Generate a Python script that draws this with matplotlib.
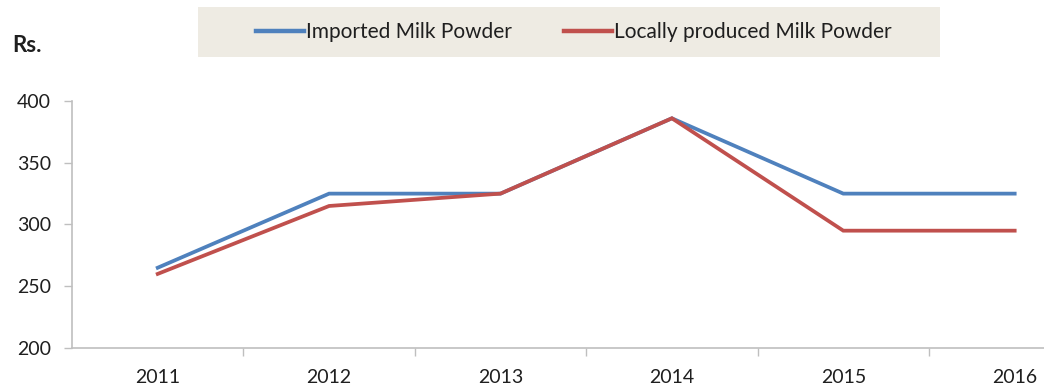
import matplotlib
matplotlib.use("Agg")
import matplotlib.pyplot as plt
from matplotlib.patches import Rectangle

years = ["2011", "2012", "2013", "2014", "2015", "2016"]
imported = [265, 325, 325, 386, 325, 325]
local = [260, 315, 325, 386, 295, 295]
y_ticks = [200, 250, 300, 350, 400]

BLUE = "#4F81BD"
RED = "#C0504D"
AXIS = "#BFBFBF"
TEXT = "#1F1F1F"

plt.rcParams["font.family"] = ["Lato", "DejaVu Sans"]

fig = plt.figure(figsize=(10.44, 3.87), dpi=100)
ax = fig.add_axes([0.069, 0.1008, 0.985, 0.6382])

x = range(len(years))
ax.plot(x, imported, color=BLUE, lw=2.7, solid_joinstyle="miter", label="Imported Milk Powder", zorder=3)
ax.plot(x, local, color=RED, lw=2.7, solid_joinstyle="miter", label="Locally produced Milk Powder", zorder=4)

ax.set_xlim(-0.5, len(years) - 0.5)
ax.set_ylim(200, 400)
ax.set_yticks(y_ticks)
ax.set_yticklabels([str(v) for v in y_ticks], fontsize=14, color=TEXT)

# category labels centred, tick marks between categories
ax.set_xticks([i + 0.5 for i in range(len(years) - 1)])
ax.set_xticklabels([])
ax.set_xticks(list(x), minor=True)
ax.set_xticklabels(years, minor=True, fontsize=14, color=TEXT)
ax.tick_params(axis="x", which="minor", length=0, pad=15)
ax.tick_params(axis="x", which="major", length=6, width=1, color=AXIS, direction="out")
ax.tick_params(axis="y", length=6, width=1, color=AXIS, direction="out", pad=9)

for side in ("top", "right"):
    ax.spines[side].set_visible(False)
for side in ("left", "bottom"):
    ax.spines[side].set_color(AXIS)
    ax.spines[side].set_linewidth(1.2)

fig.text(12 / 1044, 1 - 45 / 387, "Rs.", fontsize=16, fontweight="bold", color=TEXT, va="center", ha="left")

# legend panel
fig.patches.append(Rectangle((198 / 1044, 1 - 57 / 387), 742 / 1044, 50 / 387,
                             transform=fig.transFigure, facecolor="#EEEBE3", edgecolor="none", zorder=0))
leg = fig.legend(loc="center", bbox_to_anchor=(574 / 1044, 1 - 32 / 387), ncol=2, frameon=False,
                 fontsize=15, handlelength=2.3, handletextpad=0.1, columnspacing=2.5)
for line in leg.get_lines():
    line.set_linewidth(3.2)
for t in leg.get_texts():
    t.set_color(TEXT)

fig.savefig("out.png", dpi=100)
